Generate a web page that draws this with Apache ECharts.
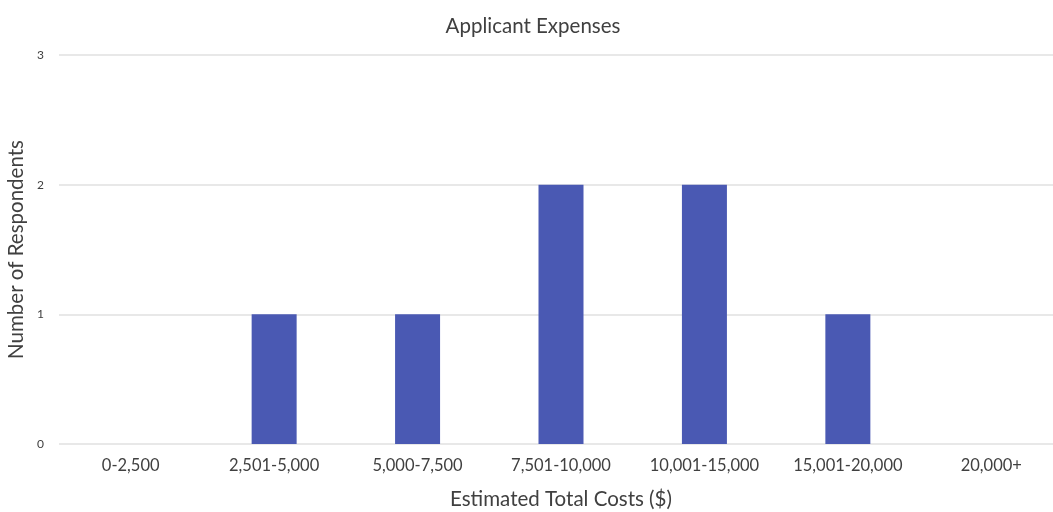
<!DOCTYPE html>
<html>
<head>
<meta charset="utf-8">
<script src="https://cdn.jsdelivr.net/npm/echarts@6/dist/echarts.min.js"></script>
<style>
html, body { margin: 0; padding: 0; background: #fff; }
#chart { width: 1053px; height: 512px; }
</style>
</head>
<body>
<div id="chart"></div>
<script>
// Cost brackets and how many respondents reported each
const costRanges = ['0-2,500', '2,501-5,000', '5,000-7,500', '7,501-10,000', '10,001-15,000', '15,001-20,000', '20,000+'];
const respondents = [0, 1, 1, 2, 2, 1, 0];
const yTicks = [0, 1, 2, 3];

const FONT = 'Lato, "Open Sans", sans-serif';
const TEXT = '#404040';
const chart = echarts.init(document.getElementById('chart'));
chart.setOption({
  animation: false,
  backgroundColor: '#ffffff',
  title: {
    text: 'Applicant Expenses',
    left: 528,
    top: 11,
    textAlign: 'center',
    textStyle: { fontFamily: FONT, fontSize: 20.5, fontWeight: 'normal', color: TEXT }
  },
  // plot area runs a little past the right edge of the page
  grid: { left: 59, top: 55, width: 1004, height: 389, containLabel: false, outerBoundsMode: 'none' },
  xAxis: {
    type: 'category',
    data: costRanges,
    name: 'Estimated Total Costs ($)',
    nameLocation: 'middle',
    nameGap: 45,
    nameTextStyle: { fontFamily: FONT, fontSize: 20.5, color: TEXT },
    axisLine: { show: false },
    axisTick: { show: false },
    axisLabel: { fontFamily: FONT, fontSize: 16.5, color: TEXT, margin: 13 }
  },
  yAxis: {
    type: 'value',
    min: yTicks[0],
    max: yTicks[yTicks.length - 1],
    interval: 1,
    name: 'Number of Respondents',
    nameLocation: 'middle',
    nameGap: 32,
    nameMoveOverlap: false,
    nameTextStyle: { fontFamily: FONT, fontSize: 20.5, color: TEXT },
    axisLine: { show: false },
    axisTick: { show: false },
    axisLabel: { fontFamily: FONT, fontSize: 12, color: TEXT, margin: 15 },
    splitLine: { lineStyle: { color: '#e0e0e0', width: 1.5 } }
  },
  series: [{
    type: 'bar',
    data: respondents,
    barWidth: 45,
    itemStyle: { color: '#4a59b3' }
  }]
});
</script>
</body>
</html>
